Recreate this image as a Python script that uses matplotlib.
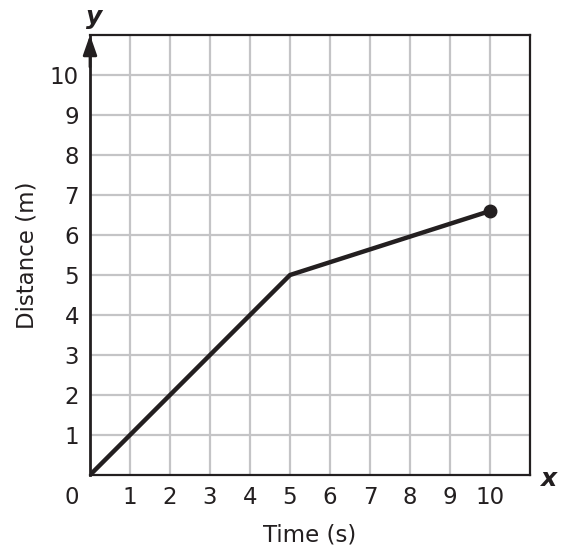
import matplotlib
matplotlib.use('Agg')
import matplotlib.pyplot as plt

plt.rcParams['font.family'] = ['DejaVu Sans']

# data
time_s = [0, 5, 10]
distance_m = [0, 5, 6.6]
x_ticks = [1, 2, 3, 4, 5, 6, 7, 8, 9, 10]
y_ticks = [1, 2, 3, 4, 5, 6, 7, 8, 9, 10]

ink = '#231f20'
grid_col = '#c4c4c6'
fs = 16.5

fig = plt.figure(figsize=(5.8, 5.58), dpi=100)
ax = fig.add_axes([90 / 580, 83 / 558, 440 / 580, 440 / 558])
ax.set_xlim(0, 11)
ax.set_ylim(0, 11)

# grid
for v in range(1, 11):
    ax.axvline(v, color=grid_col, lw=1.6, zorder=1)
    ax.axhline(v, color=grid_col, lw=1.6, zorder=1)

for side in ['top', 'right', 'bottom', 'left']:
    ax.spines[side].set_color(ink)
    ax.spines[side].set_linewidth(1.6)
ax.spines['left'].set_linewidth(2.0)

ax.plot(time_s, distance_m, color=ink, lw=3.2, solid_capstyle='round', zorder=3)
ax.plot(time_s[-1], distance_m[-1], 'o', color=ink, ms=9, zorder=4)

# arrow on the y axis
ax.annotate('', xy=(0, 11), xytext=(0, 10.2),
            arrowprops=dict(arrowstyle='-|>,head_length=1.2,head_width=0.42',
                            color=ink, lw=2.0, shrinkA=0, shrinkB=0),
            annotation_clip=False, zorder=5)

ax.set_xticks(x_ticks)
ax.set_yticks(y_ticks)
ax.tick_params(length=0, labelsize=fs, colors=ink, pad=8)
ax.text(-0.45, -0.55, '0', fontsize=fs, color=ink, ha='center', va='center')

ax.set_xlabel('Time (s)', fontsize=fs, color=ink, labelpad=10)
ax.set_ylabel('Distance (m)', fontsize=fs, color=ink, labelpad=8)

ax.text(11.45, -0.1, 'x', fontsize=18, fontweight='bold', style='italic',
        color=ink, ha='center', va='center')
ax.text(0.1, 11.45, 'y', fontsize=18, fontweight='bold', style='italic',
        color=ink, ha='center', va='center')

fig.savefig('out.png', dpi=100)
